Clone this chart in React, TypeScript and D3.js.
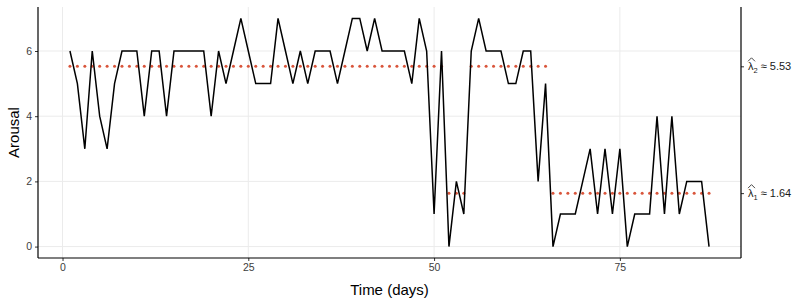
import React, { useEffect, useRef } from 'react';
import * as d3 from 'd3';

// daily arousal ratings, day 1..87
const arousal = [
    6, 5, 3, 6, 4, 3, 5, 6, 6, 6, 4, 6, 6, 4, 6, 6, 6, 6, 6, 4,
    6, 5, 6, 7, 6, 5, 5, 5, 7, 6, 5, 6, 5, 6, 6, 6, 5, 6, 7, 7,
    6, 7, 6, 6, 6, 6, 5, 7, 6, 1, 6, 0, 2, 1, 6, 7, 6, 6, 6, 5,
    5, 6, 6, 2, 5, 0, 1, 1, 1, 2, 3, 1, 3, 1, 3, 0, 1, 1, 1, 4,
    1, 4, 1, 2, 2, 2, 0
];

// decoded state per day (1 = low, 2 = high)
const stateRuns = [
    { state: 2, from: 1, to: 51 },
    { state: 1, from: 52, to: 54 },
    { state: 2, from: 55, to: 65 },
    { state: 1, from: 66, to: 87 }
];

const lambdas = [1.64, 5.53];
const lambdaLabels = ['1.64', '5.53'];
const xTicks = [0, 25, 50, 75];
const yTicks = [0, 2, 4, 6];

const App: React.FC = () => {
    const svgRef = useRef<SVGSVGElement>(null);
    const width = 800;
    const height = 300;

    useEffect(() => {
        const svg = d3.select(svgRef.current);
        svg.selectAll('*').remove();

        const margin = { top: 7, right: 59, bottom: 42, left: 38 };
        const innerW = width - margin.left - margin.right;
        const innerH = height - margin.top - margin.bottom;
        const font = "'Liberation Sans', Arial, sans-serif";

        const x = d3.scaleLinear().domain([1 - 4.3, 87 + 4.3]).range([0, innerW]);
        const y = d3.scaleLinear().domain([-0.35, 7.35]).range([innerH, 0]);

        const g = svg.append('g')
            .attr('transform', `translate(${margin.left},${margin.top})`);

        // grid
        g.selectAll('.gy').data(yTicks).enter().append('line')
            .attr('x1', 0).attr('x2', innerW)
            .attr('y1', d => y(d)).attr('y2', d => y(d))
            .attr('stroke', '#ebebeb').attr('stroke-width', 1);
        g.selectAll('.gx').data(xTicks).enter().append('line')
            .attr('y1', 0).attr('y2', innerH)
            .attr('x1', d => x(d)).attr('x2', d => x(d))
            .attr('stroke', '#ebebeb').attr('stroke-width', 1);

        // state means as dotted points
        const dots: { day: number; v: number }[] = [];
        stateRuns.forEach(r => {
            for (let day = r.from; day <= r.to; day++) {
                dots.push({ day, v: lambdas[r.state - 1] });
            }
        });
        g.selectAll('.dot').data(dots).enter().append('circle')
            .attr('cx', d => x(d.day))
            .attr('cy', d => y(d.v))
            .attr('r', 1.5)
            .attr('fill', '#D9553B');

        // series
        const line = d3.line<number>()
            .x((_, i) => x(i + 1))
            .y(d => y(d));
        g.append('path')
            .datum(arousal)
            .attr('d', line)
            .attr('fill', 'none')
            .attr('stroke', '#000')
            .attr('stroke-width', 1.5)
            .attr('stroke-linejoin', 'miter');

        // left axis
        const yAxis = g.append('g')
            .call(d3.axisLeft(y).tickValues(yTicks).tickSize(3).tickPadding(3));
        yAxis.select('.domain').remove();
        yAxis.selectAll('line').attr('stroke', '#333');
        yAxis.selectAll('text')
            .style('font-family', font).style('font-size', '10.5px').style('fill', '#3d3d3d');
        g.append('line')
            .attr('x1', 0).attr('x2', 0).attr('y1', 0).attr('y2', innerH)
            .attr('stroke', '#000').attr('stroke-width', 1.2);

        // bottom axis
        const xAxis = g.append('g')
            .attr('transform', `translate(0,${innerH})`)
            .call(d3.axisBottom(x).tickValues(xTicks).tickSize(3).tickPadding(3));
        xAxis.select('.domain').remove();
        xAxis.selectAll('line').attr('stroke', '#333');
        xAxis.selectAll('text')
            .style('font-family', font).style('font-size', '10.5px').style('fill', '#3d3d3d');
        g.append('line')
            .attr('x1', 0).attr('x2', innerW).attr('y1', innerH).attr('y2', innerH)
            .attr('stroke', '#000').attr('stroke-width', 1.2);

        // right axis with lambda-hat labels
        const rightAxis = g.append('g')
            .attr('transform', `translate(${innerW},0)`)
            .call(d3.axisRight(y).tickValues(lambdas).tickSize(3).tickFormat(() => ''));
        rightAxis.select('.domain').remove();
        rightAxis.selectAll('line').attr('stroke', '#333');
        g.append('line')
            .attr('x1', innerW).attr('x2', innerW).attr('y1', 0).attr('y2', innerH)
            .attr('stroke', '#000').attr('stroke-width', 1.2);

        lambdas.forEach((lam, i) => {
            const lx = innerW + 7;
            const ly = y(lam);
            const t = g.append('text')
                .attr('x', lx).attr('y', ly + 4)
                .style('font-family', font).style('font-size', '11px').style('fill', '#1a1a1a');
            t.append('tspan').text('λ');
            t.append('tspan').attr('dy', 2.5).style('font-size', '7.5px').text(String(i + 1));
            t.append('tspan').attr('dy', -2.5).text(` \u2248 ${lambdaLabels[i]}`);
            // hat
            g.append('path')
                .attr('d', `M${lx},${ly - 5} L${lx + 3.5},${ly - 8.5} L${lx + 7},${ly - 5}`)
                .attr('fill', 'none').attr('stroke', '#1a1a1a').attr('stroke-width', 0.8);
        });

        // axis titles
        svg.append('text')
            .attr('x', margin.left + innerW / 2).attr('y', 295)
            .attr('text-anchor', 'middle')
            .style('font-family', font).style('font-size', '15px')
            .text('Time (days)');
        svg.append('text')
            .attr('transform', `translate(19,${margin.top + innerH / 2}) rotate(-90)`)
            .attr('text-anchor', 'middle')
            .style('font-family', font).style('font-size', '15px')
            .text('Arousal');
    }, []);

    return (
        <svg
            ref={svgRef}
            width={width}
            height={height}
            style={{ position: 'absolute', left: 0, top: 0, background: '#fff' }}
        />
    );
};

export default App;
